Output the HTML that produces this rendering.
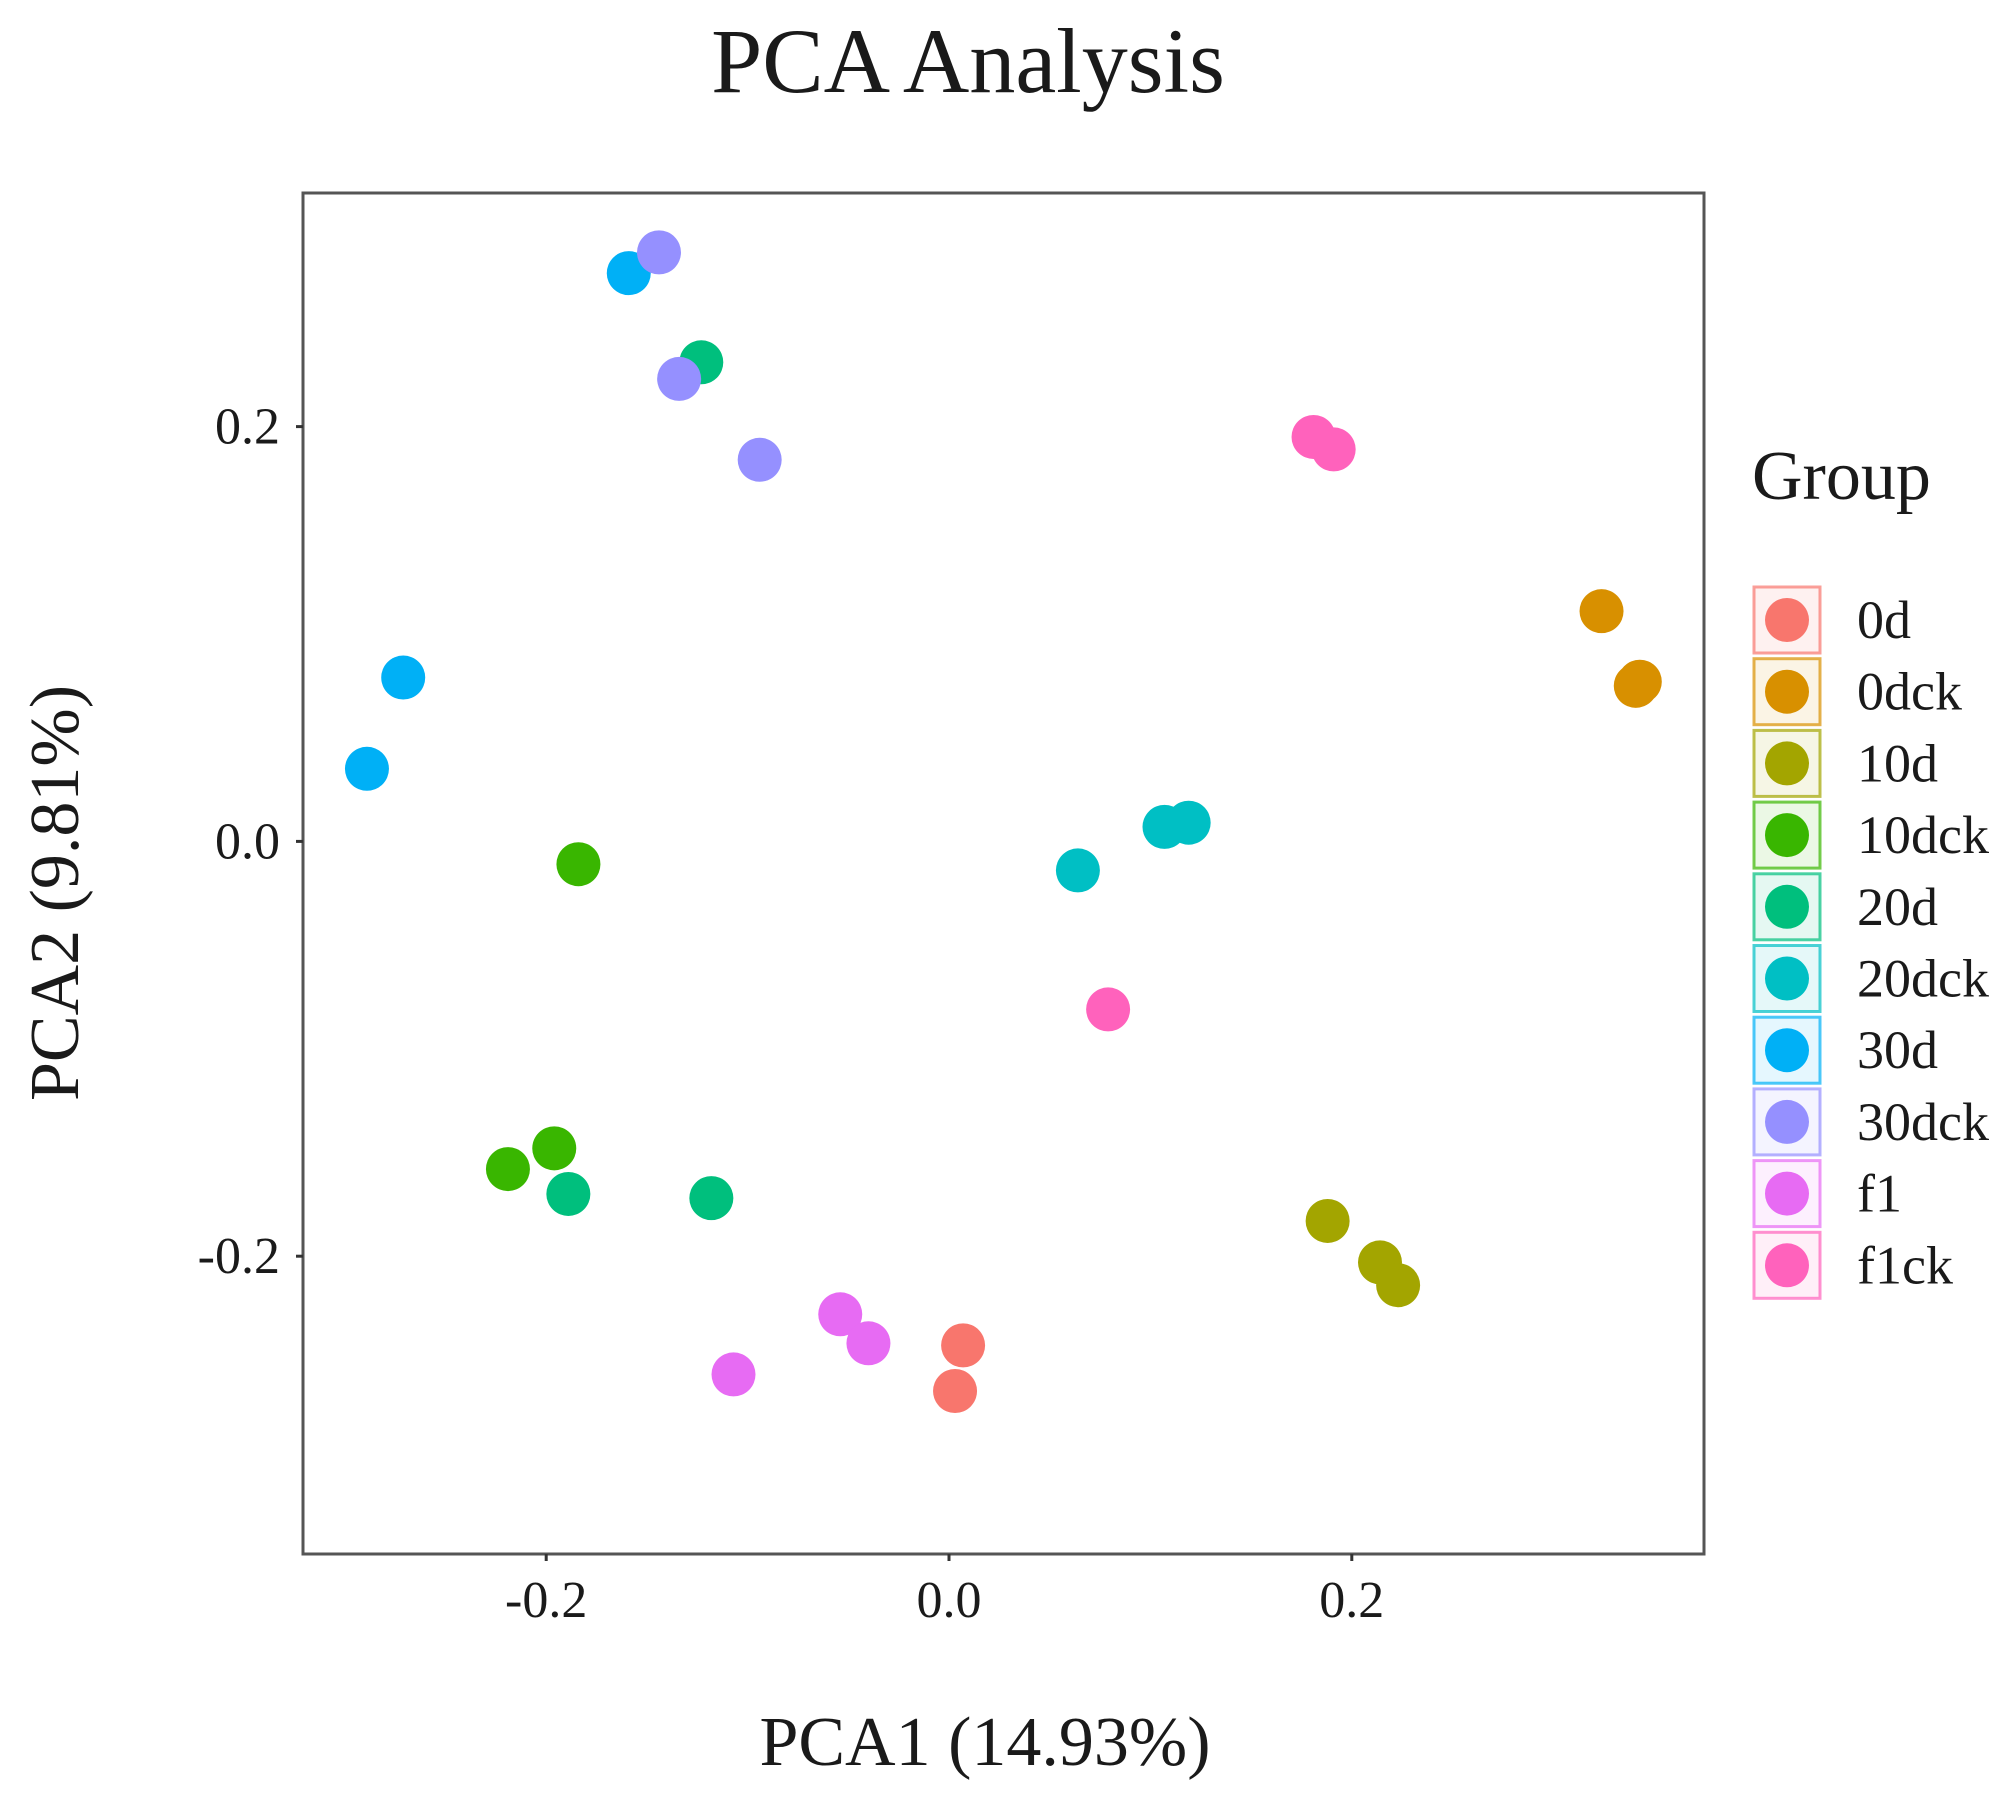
<!DOCTYPE html>
<html><head><meta charset="utf-8"><style>body{margin:0;background:#fff}svg text{font-family:"Liberation Serif",serif;fill:#1a1a1a}</style></head>
<body>
<svg id="chart" width="2008" height="1793" xmlns="http://www.w3.org/2000/svg">
<text x="968" y="92" font-size="92" text-anchor="middle">PCA Analysis</text>
<rect x="303" y="193" width="1401" height="1361" fill="none" stroke="#555" stroke-width="3"/>
<g id="axes"></g>
<g id="points"></g>
<g id="legend"></g>
<text x="985" y="1765" font-size="70" text-anchor="middle">PCA1 (14.93%)</text>
<text transform="translate(78,893) rotate(-90)" font-size="70" text-anchor="middle">PCA2 (9.81%)</text>
<text x="1752" y="499" font-size="70">Group</text>
</svg>
<script>
const groups = ['0d','0dck','10d','10dck','20d','20dck','30d','30dck','f1','f1ck'];
const colors = ['#F8766D','#D89000','#A3A500','#39B600','#00BF7D','#00BFC4','#00B0F6','#9590FF','#E76BF3','#FF62BC'];
const pointGroup = ['0d','0d','0dck','0dck','0dck','10d','10d','10d','10dck','10dck','10dck','20d','20d','20d','20dck','20dck','20dck','30d','30d','30d','30dck','30dck','30dck','f1','f1','f1','f1ck','f1ck','f1ck'];
const pc1 = [0.007,0.003,0.324,0.341,0.343,0.188,0.214,0.223,-0.184,-0.219,-0.196,-0.123,-0.189,-0.118,0.064,0.107,0.119,-0.159,-0.271,-0.289,-0.144,-0.134,-0.094,-0.054,-0.040,-0.107,0.181,0.191,0.079];
const pc2 = [-0.243,-0.265,0.111,0.075,0.077,-0.183,-0.203,-0.214,-0.011,-0.158,-0.148,0.231,-0.170,-0.172,-0.014,0.007,0.009,0.274,0.079,0.035,0.284,0.223,0.184,-0.228,-0.242,-0.257,0.195,0.189,-0.081];
const xTicks = [-0.2,0.0,0.2];
const yTicks = [-0.2,0.0,0.2];
const xLabels = ['-0.2','0.0','0.2'];
const yLabels = ['-0.2','0.0','0.2'];
const NS='http://www.w3.org/2000/svg';
function xs(v){return 949+v*2014;}
function ys(v){return 841.4-v*2074;}
function mk(t,a){const e=document.createElementNS(NS,t);for(const k in a)e.setAttribute(k,a[k]);return e;}
const ax=document.getElementById('axes');
xTicks.forEach((t,i)=>{
  const l=mk('line',{x1:xs(t),x2:xs(t),y1:1554,y2:1561,stroke:'#333','stroke-width':3});
  
  
  ax.appendChild(l);
  const tx=mk('text',{x:xs(t),y:1617,'font-size':52,'text-anchor':'middle'});
  tx.textContent=xLabels[i];
  
  
  ax.appendChild(tx);
});
yTicks.forEach((t,i)=>{
  const l=mk('line',{x1:296,x2:303,y1:ys(t),y2:ys(t),stroke:'#333','stroke-width':3});
  
  
  ax.appendChild(l);
  const tx=mk('text',{x:280,y:ys(t)+17,'font-size':52,'text-anchor':'end'});
  tx.textContent=yLabels[i];
  
  
  ax.appendChild(tx);
});
const pg=document.getElementById('points');
pc1.forEach((v,i)=>{
  const c=mk('circle',{cx:xs(v),cy:ys(pc2[i]),r:22,fill:colors[groups.indexOf(pointGroup[i])]});
  
  
  pg.appendChild(c);
});
const lg=document.getElementById('legend');
groups.forEach((g,i)=>{
  const cy=620+i*71.7;
  const r=mk('rect',{x:1754,y:cy-33,width:66,height:66,fill:colors[i],'fill-opacity':0.1,stroke:colors[i],'stroke-opacity':0.7,'stroke-width':3});
  
  
  lg.appendChild(r);
  const c=mk('circle',{cx:1787,cy:cy,r:22,fill:colors[i]});
  
  
  lg.appendChild(c);
  const t=mk('text',{x:1857,y:cy+18,'font-size':54});
  t.textContent=g;
  
  
  lg.appendChild(t);
});
</script>
</body></html>
